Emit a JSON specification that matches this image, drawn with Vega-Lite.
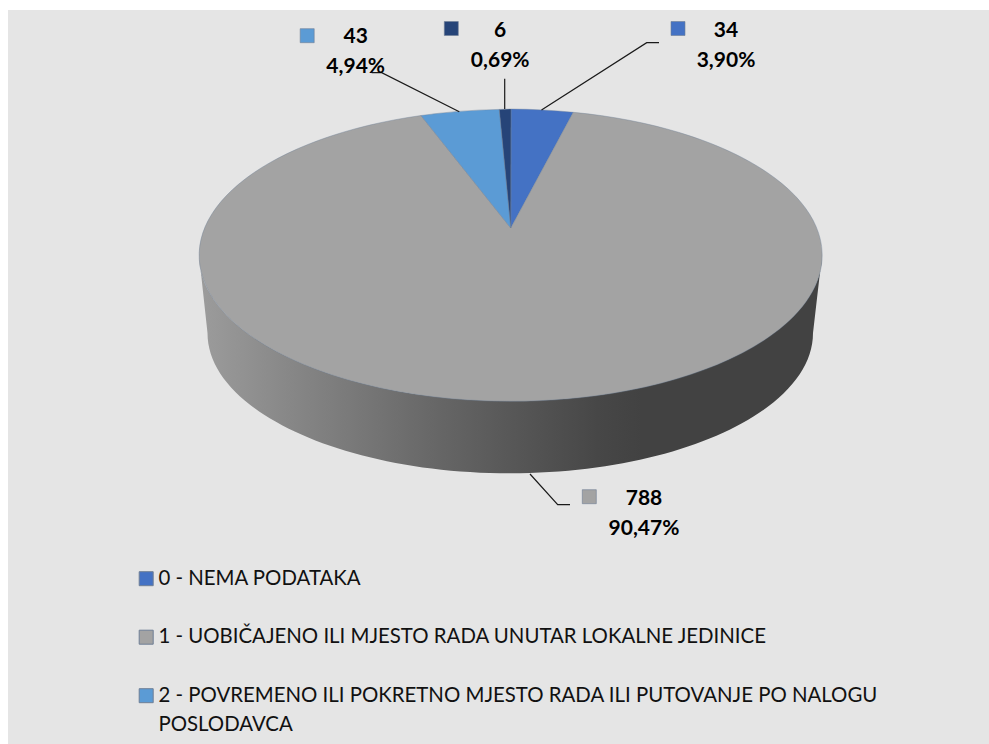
{
"$schema":"https://vega.github.io/schema/vega-lite/v6.json",
"autosize":{"type":"fit","contains":"padding"},
"width":989,"height":744,
"padding":{"left":8,"top":10,"right":0,"bottom":0},
"background":"white",
"view":{"fill":"#e5e5e5","stroke":null},
"config":{"font":"Lato","style":{"guide-label":{"lineHeight":29}}},
"data":{"values":[
{"category":"0 - NEMA PODATAKA","count":34,"percent":3.90,"label":"34\n3,90%"},
{"category":"1 - UOBIČAJENO ILI MJESTO RADA UNUTAR LOKALNE JEDINICE","count":788,"percent":90.47,"label":"788\n90,47%"},
{"category":"2 - POVREMENO ILI POKRETNO MJESTO RADA ILI PUTOVANJE PO NALOGU POSLODAVCA","count":43,"percent":4.94,"label":"43\n4,94%"},
{"category":"3","count":6,"percent":0.69,"label":"6\n0,69%"}
]},
"resolve":{"scale":{"shape":"independent"}},
"layer":[
{"transform":[{"filter":"datum.count==788"}],
 "mark":{"type":"point","filled":true,"opacity":1,"size":4,"strokeWidth":0,
  "shape":"M-299.5 -122 L-291 -44 A302 140 0 0 0 314.5 -44 L323.5 -122 A311.5 146 0 0 1 -299.5 -122 Z",
  "fill":{"gradient":"linear","x1":0,"x2":1,"y1":0,"y2":0,"stops":[
   {"offset":0,"color":"#9c9c9c"},{"offset":0.16,"color":"#858585"},{"offset":0.385,"color":"#666666"},{"offset":0.48,"color":"#5a5a5a"},{"offset":0.64,"color":"#474747"},{"offset":0.71,"color":"#424242"},{"offset":1,"color":"#424242"}]}},
 "encoding":{}},
{"mark":{"type":"point","filled":true,"opacity":1,"size":4,"stroke":"#6f7f95","strokeOpacity":0.5,"strokeWidth":0.8},
 "encoding":{
  "shape":{"field":"category","type":"nominal","legend":null,
   "scale":{"domain":["0 - NEMA PODATAKA","1 - UOBIČAJENO ILI MJESTO RADA UNUTAR LOKALNE JEDINICE","2 - POVREMENO ILI POKRETNO MJESTO RADA ILI PUTOVANJE PO NALOGU POSLODAVCA","3"],
    "range":[
     "M12.3 -149 L74.8 -264.7 A311.5 146 0 0 0 12.5 -268 Z",
     "M12.3 -149 L-77.5 -261.5 A311.5 146 0 1 0 74.8 -264.7 Z",
     "M12.3 -149 L0.8 -267.6 A311.5 146 0 0 0 -77.5 -261.5 Z",
     "M12.3 -149 L12.5 -268 A311.5 146 0 0 0 0.8 -267.6 Z"]}},
  "color":{"field":"category","type":"nominal",
   "scale":{"domain":["0 - NEMA PODATAKA","1 - UOBIČAJENO ILI MJESTO RADA UNUTAR LOKALNE JEDINICE","2 - POVREMENO ILI POKRETNO MJESTO RADA ILI PUTOVANJE PO NALOGU POSLODAVCA","3"],
    "range":["#4472c4","#a3a3a3","#5b9bd5","#264478"]},
   "legend":{"title":null,"orient":"none","legendX":128,"legendY":564.5,"columns":1,
    "values":["0 - NEMA PODATAKA","1 - UOBIČAJENO ILI MJESTO RADA UNUTAR LOKALNE JEDINICE","2 - POVREMENO ILI POKRETNO MJESTO RADA ILI PUTOVANJE PO NALOGU POSLODAVCA"],
    "symbolType":"M-7 -13 h14 v14 h-14 Z","symbolSize":4,"symbolStrokeColor":"#7a8799","symbolStrokeWidth":1,"symbolOpacity":1,
    "labelFont":"Lato","labelFontSize":20.4,"labelColor":"#111111","labelBaseline":"alphabetic","labelLimit":900,"labelOffset":2,"rowPadding":37.5,
    "labelExpr":"split(replace(datum.label,' POSLODAVCA','|POSLODAVCA'),'|')"}}}},
{"mark":{"type":"point","filled":false,"opacity":1,"size":4,"color":"#1a1a1a","strokeWidth":1.2},
 "encoding":{
  "shape":{"field":"category","type":"nominal","legend":null,
   "scale":{"domain":["0 - NEMA PODATAKA","1 - UOBIČAJENO ILI MJESTO RADA UNUTAR LOKALNE JEDINICE","2 - POVREMENO ILI POKRETNO MJESTO RADA ILI PUTOVANJE PO NALOGU POSLODAVCA","3"],
    "range":["M43 -267 L148.2 -334.3 L160.5 -334.3","M31.5 97 L59.2 127.7 L71.5 127.7","M-39.2 -265.3 L-116.8 -304.3 L-126.8 -304.3","M6.2 -268 L6.2 -298.3"]}}}},
{"mark":{"type":"point","filled":true,"opacity":1,"size":4,"stroke":"#6f7f95","strokeOpacity":0.6,"strokeWidth":1},
 "encoding":{
  "shape":{"field":"category","type":"nominal","legend":null,
   "scale":{"domain":["0 - NEMA PODATAKA","1 - UOBIČAJENO ILI MJESTO RADA UNUTAR LOKALNE JEDINICE","2 - POVREMENO ILI POKRETNO MJESTO RADA ILI PUTOVANJE PO NALOGU POSLODAVCA","3"],
    "range":["M172.5 -355.5h14v14h-14z","M83.8 112.7h14v14h-14z","M-198.3 -348.3h14v14h-14z","M-54.2 -355.5h14v14h-14z"]}},
  "color":{"field":"category","type":"nominal"}}},
{"transform":[{"filter":"datum.count==34"}],"mark":{"type":"text","font":"Lato","fontWeight":"bold","fontSize":21,"color":"#000000","lineBreak":"\n","lineHeight":30,"align":"center","baseline":"middle","dx":227.5,"dy":-346.5},"encoding":{"text":{"field":"label"}}},
{"transform":[{"filter":"datum.count==788"}],"mark":{"type":"text","font":"Lato","fontWeight":"bold","fontSize":21,"color":"#000000","lineBreak":"\n","lineHeight":30,"align":"center","baseline":"middle","dx":145.5,"dy":121.5},"encoding":{"text":{"field":"label"}}},
{"transform":[{"filter":"datum.count==43"}],"mark":{"type":"text","font":"Lato","fontWeight":"bold","fontSize":21,"color":"#000000","lineBreak":"\n","lineHeight":30,"align":"center","baseline":"middle","dx":-142.8,"dy":-340.2},"encoding":{"text":{"field":"label"}}},
{"transform":[{"filter":"datum.count==6"}],"mark":{"type":"text","font":"Lato","fontWeight":"bold","fontSize":21,"color":"#000000","lineBreak":"\n","lineHeight":30,"align":"center","baseline":"middle","dx":1.7,"dy":-346.3},"encoding":{"text":{"field":"label"}}}
]
}
